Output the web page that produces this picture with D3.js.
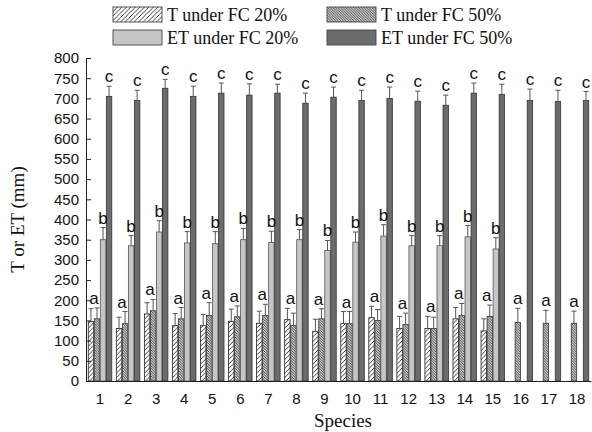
<!DOCTYPE html>
<meta charset="utf-8">
<body style="margin:0; background:#fff">
<script src="https://d3js.org/d3.v7.min.js"></script>
<script>

const species = ["1","2","3","4","5","6","7","8","9","10","11","12","13","14","15","16","17","18"];
const seriesNames = ["T under FC 20%", "T under FC 50%", "ET under FC 20%", "ET under FC 50%"];

const t20  = [147,130,166,137,137,148,143,152,123,142,157,130,130,154,124,null,null,null];
const t50  = [154,142,174,154,162,159,162,138,154,142,150,140,130,162,160,145,143,143];
const et20 = [350,335,369,342,340,350,343,350,323,344,359,335,335,357,327,null,null,null];
const et50 = [705,695,725,705,713,708,713,688,703,695,700,693,683,713,710,695,692,695];

const t20Err  = [32,28,28,30,28,30,30,28,30,30,28,30,30,28,30,null,null,null];
const t50Err  = [27,30,28,28,32,27,28,30,25,30,27,28,28,30,28,35,32,30];
const et20Err = [30,25,28,28,30,28,28,25,25,25,28,25,25,28,28,null,null,null];
const et50Err = [25,25,22,25,25,28,22,25,25,25,28,25,25,25,25,28,28,22];

const letters = ["a", "a", "b", "c"];

// single family names only - lists fall back to the default serif here
const SANS = "Liberation Sans",
      SERIF = "Liberation Serif";

const width = 592, height = 432,
      margin = {left: 86, right: 1, top: 58, bottom: 51};

const svg = d3.select("body").append("svg")
    .attr("width", width)
    .attr("height", height);

const defs = svg.append("defs");

function hatch(id, size, dir, sw, col) {
  const p = defs.append("pattern")
      .attr("id", id)
      .attr("patternUnits", "userSpaceOnUse")
      .attr("width", size)
      .attr("height", size);
  p.append("rect").attr("width", size).attr("height", size).attr("fill", "#fff");
  const d = dir > 0
    ? `M0,${size} L${size},0 M${-size/2},${size/2} L${size/2},${-size/2} M${size/2},${size*1.5} L${size*1.5},${size/2}`
    : `M0,0 L${size},${size} M${-size/2},${size/2} L${size/2},${size*1.5} M${size/2},${-size/2} L${size*1.5},${size/2}`;
  p.append("path").attr("d", d).attr("stroke", col).attr("stroke-width", sw);
}
hatch("hatchT20", 4.5, 1, 0.9, "#222");
hatch("hatchT50", 2.6, -1, 0.9, "#333");

const fills = ["url(#hatchT20)", "url(#hatchT50)", "#c6c6c6", "#6c6c6c"];
const strokes = ["#222", "#333", "#555", "#333"];

const x0 = d3.scaleBand()
    .domain(species)
    .range([margin.left, width - margin.right])
    .paddingInner(0.14)
    .paddingOuter(0.07);

const x1 = d3.scaleBand()
    .domain(d3.range(4))
    .range([0, x0.bandwidth()]);

const y = d3.scaleLinear()
    .domain([0, 800])
    .range([height - margin.bottom, margin.top]);

const values = [t20, t50, et20, et50];
const errs = [t20Err, t50Err, et20Err, et50Err];

const data = species.map((s, i) => ({
  s,
  bars: values.map((v, k) => ({k, v: v[i], e: errs[k][i]})).filter(b => b.v != null)
}));

const groups = svg.append("g")
  .selectAll("g")
  .data(data)
  .join("g")
    .attr("transform", d => `translate(${x0(d.s)},0)`);

// bars
groups.selectAll("rect")
  .data(d => d.bars)
  .join("rect")
    .attr("x", b => x1(b.k) + 0.3)
    .attr("width", x1.bandwidth() - 0.6)
    .attr("y", b => y(b.v))
    .attr("height", b => y(0) - y(b.v))
    .attr("fill", b => fills[b.k])
    .attr("stroke", b => strokes[b.k])
    .attr("stroke-width", 0.8);

// error bars (upper only)
const eb = groups.selectAll("g.err")
  .data(d => d.bars)
  .join("g")
    .attr("class", "err")
    .attr("stroke", "#555")
    .attr("stroke-width", 1);
eb.append("line")
    .attr("x1", b => x1(b.k) + x1.bandwidth() / 2)
    .attr("x2", b => x1(b.k) + x1.bandwidth() / 2)
    .attr("y1", b => y(b.v))
    .attr("y2", b => y(b.v + b.e));
eb.append("line")
    .attr("x1", b => x1(b.k) + x1.bandwidth() / 2 - 2.5)
    .attr("x2", b => x1(b.k) + x1.bandwidth() / 2 + 2.5)
    .attr("y1", b => y(b.v + b.e))
    .attr("y2", b => y(b.v + b.e));

// significance letters
function letter(g, x, yy, t) {
  g.append("text")
    .attr("x", x).attr("y", yy)
    .attr("text-anchor", "middle")
    .attr("font-size", 17)
    .attr("fill", "#111")
    .attr("font-family", SANS)
    .text(t);
}
groups.each(function(d) {
  const g = d3.select(this);
  const tb = d.bars.filter(b => b.k < 2);
  const tTop = d3.max(tb, b => b.v + b.e);
  const tx = d3.mean(tb, b => x1(b.k) + x1.bandwidth() / 2);
  letter(g, tx, y(tTop) - 4, letters[0]);
  d.bars.filter(b => b.k >= 2).forEach(b => {
    letter(g, x1(b.k) + x1.bandwidth() / 2, y(b.v + b.e) - 4, letters[b.k]);
  });
});

// axes
const yAxis = d3.axisLeft(y).tickValues(d3.range(0, 801, 50)).tickSizeInner(-5).tickSizeOuter(0).tickPadding(7);
svg.append("g")
    .attr("transform", `translate(${margin.left},0)`)
    .call(yAxis)
    .attr("font-family", SANS)
    .attr("font-size", 15)
    .call(g => g.select(".domain").attr("stroke", "#222"))
    .call(g => g.selectAll(".tick line").attr("stroke", "#222"))
    .call(g => g.selectAll(".tick text").attr("fill", "#111"));

const xAxis = d3.axisBottom(x0).tickSize(0).tickPadding(12);
svg.append("g")
    .attr("transform", `translate(0,${y(0)})`)
    .call(xAxis)
    .attr("font-family", SANS)
    .attr("font-size", 15)
    .call(g => g.select(".domain").attr("stroke", "#222").attr("stroke-width", 1.2))
    .call(g => g.selectAll(".tick text").attr("fill", "#111"));

svg.append("text")
    .attr("transform", `translate(24,${(y(0) + y(800)) / 2}) rotate(-90)`)
    .attr("text-anchor", "middle")
    .attr("font-size", 19)
    .attr("fill", "#111")
    .attr("font-family", SERIF)
    .text("T or ET (mm)");

svg.append("text")
    .attr("x", 343).attr("y", 427)
    .attr("text-anchor", "middle")
    .attr("font-size", 19)
    .attr("fill", "#111")
    .attr("font-family", SERIF)
    .text("Species");

// legend
const legendPos = [[113, 7], [327, 7], [113, 30], [327, 30]];
const legend = svg.append("g")
  .selectAll("g")
  .data(seriesNames)
  .join("g")
    .attr("transform", (d, i) => `translate(${legendPos[i][0]},${legendPos[i][1]})`);
legend.append("rect")
    .attr("width", 49)
    .attr("height", 15)
    .attr("fill", (d, i) => fills[i])
    .attr("stroke", "#444")
    .attr("stroke-width", 0.9);
legend.append("text")
    .attr("x", 54)
    .attr("y", 7.5)
    .attr("dy", "0.35em")
    .attr("font-size", 18)
    .attr("fill", "#111")
    .attr("font-family", SERIF)
    .text(d => d);

</script>
